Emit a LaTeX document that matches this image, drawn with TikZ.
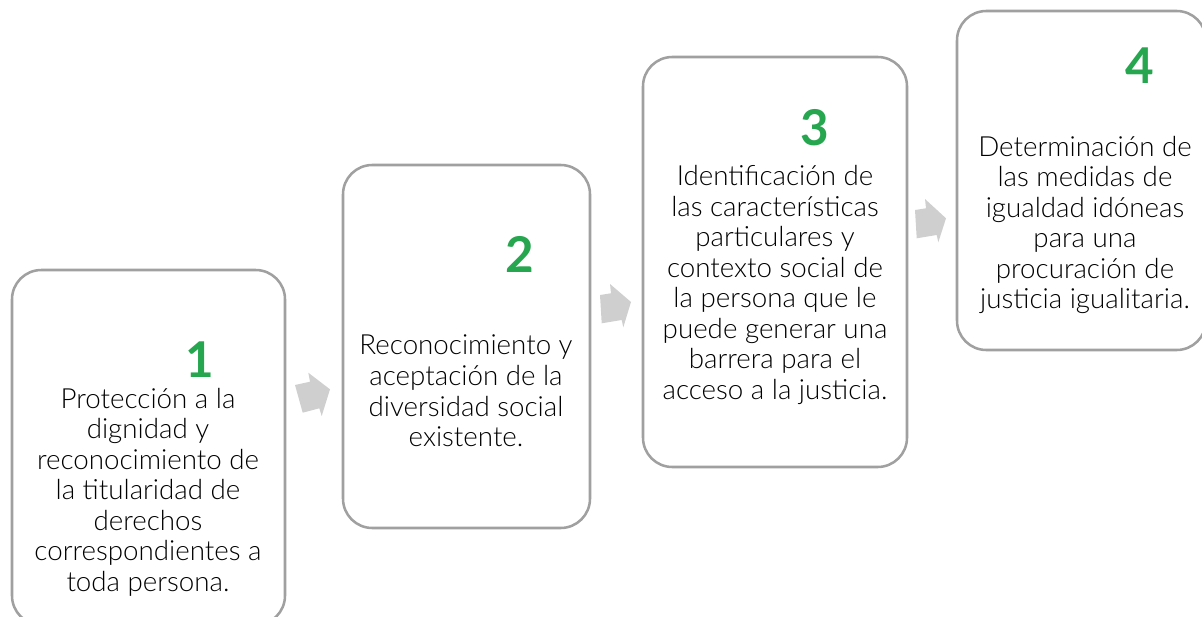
\documentclass[tikz,border=0pt]{standalone}
\usepackage{fontspec}
\setmainfont{Lato}[UprightFont=* Light, BoldFont=* Bold]
\definecolor{boxgray}{RGB}{160,160,160}
\definecolor{arrowgray}{RGB}{207,207,207}
\definecolor{numgreen}{RGB}{38,166,78}
\begin{document}
\begin{tikzpicture}[x=0.75pt,y=-0.75pt,
  stepbox/.style={draw=boxgray, line width=1.9pt, rounded corners=22pt, fill=white},
  steptext/.style={align=center, font=\fontsize{20.8}{22.9}\selectfont, text=black, inner sep=0pt},
  stepnum/.style={font=\fontsize{37}{40}\selectfont\bfseries, text=numgreen, inner sep=0pt},
  chev/.style={fill=arrowgray, draw=none}]
\useasboundingbox (0,0) rectangle (1202,617);
\clip (0,0) rectangle (1202,617);
% boxes
\draw[stepbox] (12,270) rectangle (285,625);
\draw[stepbox] (343,165) rectangle (590,528);
\draw[stepbox] (643,57) rectangle (907,467);
\draw[stepbox] (957,11) rectangle (1206,350);
% numbers
\node[stepnum] (n1) at (200,360) {1};
\node[stepnum] (n2) at (520,254) {2};
\node[stepnum] (n3) at (815,128) {3};
\node[stepnum] (n4) at (1140,66) {4};
% texts
\node[steptext] (t1) at (148,492) {Protección a la\\dignidad y\\reconocimiento de\\la titularidad de\\derechos\\correspondientes a\\toda persona.};
\node[steptext] (t2) at (466,391) {Reconocimiento y\\aceptación de la\\diversidad social\\existente.};
\node[steptext] (t3) at (775,285) {Identificación de\\las características\\particulares y\\contexto social de\\la persona que le\\puede generar una\\barrera para el\\acceso a la justicia.};
\node[steptext] (t4) at (1085,225) {Determinación de\\las medidas de\\igualdad idóneas\\para una\\procuración de\\justicia igualitaria.};
% arrows
\fill[chev] (295,385) -- (310,381.7) -- (308.3,372.7) -- (330,389.3) -- (321.7,416) -- (319.3,408.3) -- (302.7,412.7) -- cycle;
\fill[chev] (600,295) -- (611,293.3) -- (610,284) -- (631,302) -- (623.3,327.3) -- (621.7,320) -- (601.7,323.3) -- cycle;
\fill[chev] (915,210) -- (926,208.3) -- (925,199) -- (946,218.3) -- (938.3,242.3) -- (936.7,235) -- (916.7,238.3) -- cycle;
\end{tikzpicture}
\end{document}
